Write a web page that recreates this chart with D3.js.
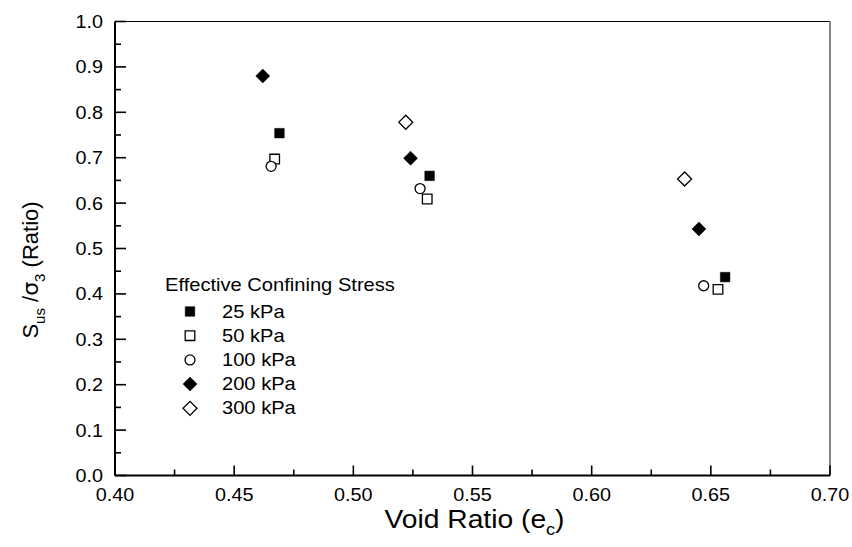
<!DOCTYPE html>
<html>
<head>
<meta charset="utf-8">
<script src="https://cdn.jsdelivr.net/npm/d3@7"></script>
<style>
  html, body { margin: 0; padding: 0; background: #fff; }
  svg text { font-family: Arial, "Liberation Sans", sans-serif; fill: #000; }
</style>
</head>
<body>
<svg id="chart" width="852" height="547"></svg>
<script>
// Undrained strength ratio vs void ratio, grouped by confining stress

const STRESS_LABELS = ["25 kPa", "50 kPa", "100 kPa", "200 kPa", "300 kPa"];
const SYMBOLS       = ["square", "square", "circle", "diamond", "diamond"];
const FILLED        = [true, false, false, true, false];

const VOID_25   = [0.469, 0.532, 0.656];
const RATIO_25  = [0.754, 0.660, 0.437];
const VOID_50   = [0.467, 0.531, 0.653];
const RATIO_50  = [0.697, 0.609, 0.410];
const VOID_100  = [0.4655, 0.528, 0.647];
const RATIO_100 = [0.681, 0.632, 0.418];
const VOID_200  = [0.462, 0.524, 0.645];
const RATIO_200 = [0.880, 0.699, 0.543];
const VOID_300  = [0.522, 0.639];
const RATIO_300 = [0.778, 0.653];

const X_TICKS = [0.40, 0.45, 0.50, 0.55, 0.60, 0.65, 0.70];
const Y_TICKS = [0.0, 0.1, 0.2, 0.3, 0.4, 0.5, 0.6, 0.7, 0.8, 0.9, 1.0];

const SERIES = [
  [VOID_25, RATIO_25], [VOID_50, RATIO_50], [VOID_100, RATIO_100],
  [VOID_200, RATIO_200], [VOID_300, RATIO_300]
];

const W = 852, H = 547;
const margin = { left: 115, right: 22, top: 21.5, bottom: 71.5 };

const svg = d3.select("#chart");

const xs = d3.scaleLinear().domain([0.40, 0.70]).range([margin.left, W - margin.right]);
const ys = d3.scaleLinear().domain([0, 1]).range([H - margin.bottom, margin.top]);

// wide text helper (text in the reference is stretched sideways a little)
function wtext(parent, x, y, size, anchor, sx) {
  return parent.append("text")
    .attr("transform", `translate(${x},${y}) scale(${sx || 1.12},1)`)
    .attr("font-size", size + "px")
    .attr("text-anchor", anchor || "start");
}

// ── Marker shapes ─────────────────────────────────────────────
function marker(g, kind, filled) {
  let path;
  if (kind === "circle") path = d3.symbol(d3.symbolCircle, Math.PI * 25)();
  else path = d3.symbol(d3.symbolSquare, kind === "diamond" ? 98 : 92)();
  g.append("path")
    .attr("d", path)
    .attr("transform", kind === "diamond" ? "rotate(45)" : null)
    .attr("fill", filled ? "#000" : "#fff")
    .attr("stroke", "#000")
    .attr("stroke-width", filled ? 0.5 : 1.3);
}

// ── Frame ─────────────────────────────────────────────────────
const x0 = xs(0.40), x1 = xs(0.70), y0 = ys(0), y1 = ys(1);
svg.append("line").attr("x1", x0).attr("x2", x1).attr("y1", y1).attr("y2", y1)
  .attr("stroke", "#000").attr("stroke-width", 1.2);
svg.append("line").attr("x1", x1).attr("x2", x1).attr("y1", y1).attr("y2", y0)
  .attr("stroke", "#666").attr("stroke-width", 1.6);

// ── Axes ──────────────────────────────────────────────────────
// major ticks labelled, minor ticks between, all pointing inward
const xMinor = d3.range(0.425, 0.70, 0.05);
xMinor.forEach(v => {
  svg.append("line").attr("x1", xs(v)).attr("x2", xs(v))
    .attr("y1", y0).attr("y2", y0 - 6).attr("stroke", "#000").attr("stroke-width", 1.6);
});
X_TICKS.forEach(v => {
  svg.append("line").attr("x1", xs(v)).attr("x2", xs(v))
    .attr("y1", y0).attr("y2", y0 - 10).attr("stroke", "#000").attr("stroke-width", 1.6);
  wtext(svg, xs(v), y0 + 25, 18, "middle", 1.1).text(v.toFixed(2));
});

const yMinor = d3.range(0.05, 1.0, 0.1);
yMinor.forEach(v => {
  svg.append("line").attr("x1", x0).attr("x2", x0 + 6)
    .attr("y1", ys(v)).attr("y2", ys(v)).attr("stroke", "#000").attr("stroke-width", 1.6);
});
Y_TICKS.forEach(v => {
  svg.append("line").attr("x1", x0).attr("x2", x0 + 11)
    .attr("y1", ys(v)).attr("y2", ys(v)).attr("stroke", "#000").attr("stroke-width", 1.6);
  wtext(svg, x0 - 12, ys(v) + 6.5, 18, "end", 1.1).text(v.toFixed(1));
});

svg.append("line").attr("x1", x0).attr("x2", x1).attr("y1", y0).attr("y2", y0)
  .attr("stroke", "#000").attr("stroke-width", 2);
svg.append("line").attr("x1", x0).attr("x2", x0).attr("y1", y1).attr("y2", y0)
  .attr("stroke", "#000").attr("stroke-width", 2);

// ── Axis titles ───────────────────────────────────────────────
const xt = wtext(svg, (x0 + x1) / 2 + 2, 528, 25, "middle", 1.13);
xt.append("tspan").text("Void Ratio (e");
xt.append("tspan").attr("font-size", "16px").attr("dy", 7).text("c");
xt.append("tspan").attr("dy", -7).text(")");

const yt = svg.append("text")
  .attr("transform", "translate(38,270) rotate(-90)")
  .attr("font-size", "22px").attr("text-anchor", "middle");
yt.append("tspan").text("S");
yt.append("tspan").attr("font-size", "15px").attr("dy", 7).text("us");
yt.append("tspan").attr("dy", -7).text(" /");
yt.append("tspan").attr("font-family", "'DejaVu Sans', sans-serif").text("σ");
yt.append("tspan").attr("font-size", "15px").attr("dy", 7).text("3");
yt.append("tspan").attr("dy", -7).text(" (Ratio)");

// ── Data points ───────────────────────────────────────────────
SERIES.forEach(([vx, vy], i) => {
  vx.forEach((v, j) => {
    const g = svg.append("g").attr("transform", `translate(${xs(v)},${ys(vy[j])})`);
    marker(g, SYMBOLS[i], FILLED[i]);
  });
});

// ── Legend ────────────────────────────────────────────────────
const lg = svg.append("g");
wtext(lg, 165, 291, 17.5, "start", 1.15).text("Effective Confining Stress");
STRESS_LABELS.forEach((lab, i) => {
  const cy = 311.5 + i * 24.2;
  marker(lg.append("g").attr("transform", `translate(190,${cy})`), SYMBOLS[i], FILLED[i]);
  wtext(lg, 222, cy + 6, 17.5, "start", 1.15).text(lab);
});
</script>
</body>
</html>
